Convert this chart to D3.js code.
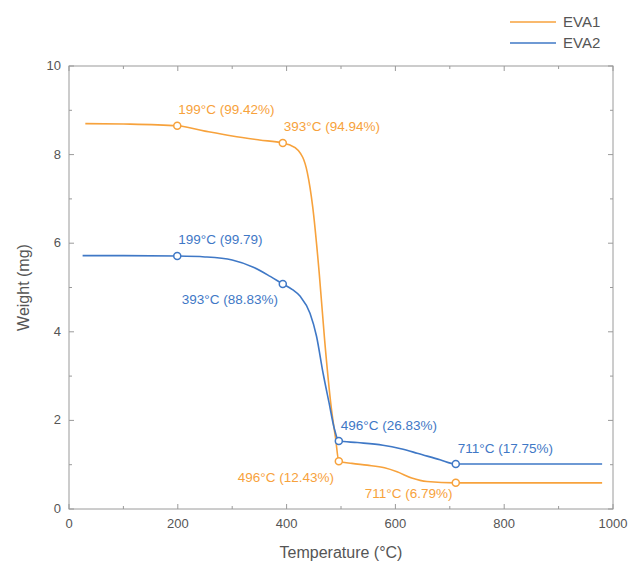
<!DOCTYPE html>
<html>
<head>
<meta charset="utf-8">
<script src="https://cdn.jsdelivr.net/npm/d3@7"></script>
<style>
    body { margin: 0; background: #fff; }
    text { font-family: "Liberation Sans", Arial, sans-serif; }
</style>
</head>
<body>
<svg id="tga"></svg>
<script>
// data
var seriesNames = ["EVA1", "EVA2"];
var eva1Temp = [30, 100, 199, 250, 300, 350, 393, 405, 421, 438, 448, 460, 470, 482, 490, 496, 520, 548, 580, 603, 630, 658, 711, 800, 980];
var eva1Weight = [8.70, 8.69, 8.65, 8.53, 8.42, 8.33, 8.26, 8.22, 8.10, 7.6, 6.82, 5.32, 3.8, 2.3, 1.6, 1.08, 1.03, 0.99, 0.93, 0.84, 0.70, 0.62, 0.59, 0.59, 0.59];
var eva2Temp = [25, 100, 199, 250, 300, 340, 370, 393, 410, 425, 443, 455, 467, 478, 488, 496, 530, 577, 610, 640, 682, 711, 800, 980];
var eva2Weight = [5.72, 5.72, 5.71, 5.69, 5.62, 5.45, 5.25, 5.08, 4.96, 4.8, 4.42, 3.9, 3.07, 2.4, 1.8, 1.535, 1.50, 1.44, 1.36, 1.26, 1.11, 1.015, 1.015, 1.015];
var eva1MarkTemp = [199, 393, 496, 711];
var eva1MarkWeight = [8.65, 8.26, 1.08, 0.59];
var eva1MarkLabel = ["199°C (99.42%)", "393°C (94.94%)", "496°C (12.43%)", "711°C (6.79%)"];
var eva2MarkTemp = [199, 393, 496, 711];
var eva2MarkWeight = [5.71, 5.08, 1.535, 1.015];
var eva2MarkLabel = ["199°C (99.79)", "393°C (88.83%)", "496°C (26.83%)", "711°C (17.75%)"];
var xTicks = [0, 200, 400, 600, 800, 1000];
var yTicks = [0, 2, 4, 6, 8, 10];

function DrawChart() {
    var svgWidth = 633;
    var svgHeight = 567;
    var margin = { left: 69, top: 66, right: 20, bottom: 58 };
    var w = svgWidth - margin.left - margin.right;
    var h = svgHeight - margin.top - margin.bottom;
    var colors = ["#f7a23c", "#3f78c6"];
    var axisGray = "#9a9a9a";
    var textGray = "#555";

    var svg = d3.select('svg#tga')
        .attr("width", svgWidth)
        .attr("height", svgHeight);

    var x = d3.scaleLinear().domain([0, 1000]).range([0, w]);
    var y = d3.scaleLinear().domain([0, 10]).range([h, 0]);

    var g = svg.append('g')
        .attr('transform', 'translate(' + margin.left + ',' + margin.top + ')');

    // frame
    g.append('rect')
        .attr('width', w).attr('height', h)
        .attr('fill', 'none')
        .attr('stroke', axisGray)
        .attr('stroke-width', 1);

    // ticks inward on every side
    var xMinor = d3.range(0, 1001, 100);
    var yMinor = d3.range(0, 10.01, 1);
    var ticks = g.append('g').attr('stroke', axisGray).attr('stroke-width', 1);
    xMinor.forEach(function (t) {
        var len = t % 200 === 0 ? 5 : 3;
        ticks.append('line').attr('x1', x(t)).attr('x2', x(t)).attr('y1', h).attr('y2', h - len);
        ticks.append('line').attr('x1', x(t)).attr('x2', x(t)).attr('y1', 0).attr('y2', len);
    });
    yMinor.forEach(function (t) {
        var len = t % 2 === 0 ? 5 : 3;
        ticks.append('line').attr('y1', y(t)).attr('y2', y(t)).attr('x1', 0).attr('x2', len);
        ticks.append('line').attr('y1', y(t)).attr('y2', y(t)).attr('x1', w).attr('x2', w - len);
    });

    // tick labels
    g.selectAll('text.xt').data(xTicks).enter()
        .append('text')
        .attr('class', 'xt')
        .attr('x', function (d) { return x(d); })
        .attr('y', h + 19)
        .attr('text-anchor', 'middle')
        .attr('font-size', 13)
        .attr('fill', textGray)
        .text(function (d) { return d; });

    g.selectAll('text.yt').data(yTicks).enter()
        .append('text')
        .attr('class', 'yt')
        .attr('x', -8)
        .attr('y', function (d) { return y(d) + 4; })
        .attr('text-anchor', 'end')
        .attr('font-size', 13)
        .attr('fill', textGray)
        .text(function (d) { return d; });

    // axis titles
    svg.append('text')
        .attr('x', margin.left + w / 2)
        .attr('y', 558)
        .attr('text-anchor', 'middle')
        .attr('font-size', 16)
        .attr('fill', textGray)
        .text('Temperature (°C)');

    svg.append('text')
        .attr('transform', 'translate(29,' + (margin.top + h / 2) + ') rotate(-90)')
        .attr('text-anchor', 'middle')
        .attr('font-size', 16)
        .attr('fill', textGray)
        .text('Weight (mg)');

    // curves
    var line = d3.line()
        .x(function (d) { return x(d[0]); })
        .y(function (d) { return y(d[1]); })
        .curve(d3.curveMonotoneX);

    var curves = [d3.zip(eva1Temp, eva1Weight), d3.zip(eva2Temp, eva2Weight)];
    g.selectAll('path.curve').data(curves).enter()
        .append('path')
        .attr('class', 'curve')
        .attr('d', line)
        .attr('fill', 'none')
        .attr('stroke', function (d, i) { return colors[i]; })
        .attr('stroke-width', 1.6);

    // markers and their labels
    var marks = [
        { t: eva1MarkTemp, v: eva1MarkWeight, lab: eva1MarkLabel, c: colors[0],
          off: [[1, -12], [1, -12], [-101, 21], [-91, 15]] },
        { t: eva2MarkTemp, v: eva2MarkWeight, lab: eva2MarkLabel, c: colors[1],
          off: [[1, -12], [-101, 20], [2, -11], [2, -11]] }
    ];
    marks.forEach(function (m) {
        var pts = d3.zip(m.t, m.v, m.lab, m.off);
        g.selectAll(null).data(pts).enter()
            .append('circle')
            .attr('cx', function (d) { return x(d[0]); })
            .attr('cy', function (d) { return y(d[1]); })
            .attr('r', 3.5)
            .attr('fill', '#fff')
            .attr('stroke', m.c)
            .attr('stroke-width', 1.5);
        g.selectAll(null).data(pts).enter()
            .append('text')
            .attr('x', function (d) { return x(d[0]) + d[3][0]; })
            .attr('y', function (d) { return y(d[1]) + d[3][1]; })
            .attr('font-size', 13.5)
            .attr('fill', m.c)
            .text(function (d) { return d[2]; });
    });

    // legend
    var legend = svg.append('g').attr('class', 'legend');
    seriesNames.forEach(function (name, i) {
        var ly = 22 + i * 21;
        legend.append('line')
            .attr('x1', 510).attr('x2', 556)
            .attr('y1', ly).attr('y2', ly)
            .attr('stroke', colors[i])
            .attr('stroke-width', 1.6);
        legend.append('text')
            .attr('x', 563)
            .attr('y', ly + 5)
            .attr('font-size', 15)
            .attr('fill', textGray)
            .text(name);
    });
}

DrawChart();
</script>
</body>
</html>
